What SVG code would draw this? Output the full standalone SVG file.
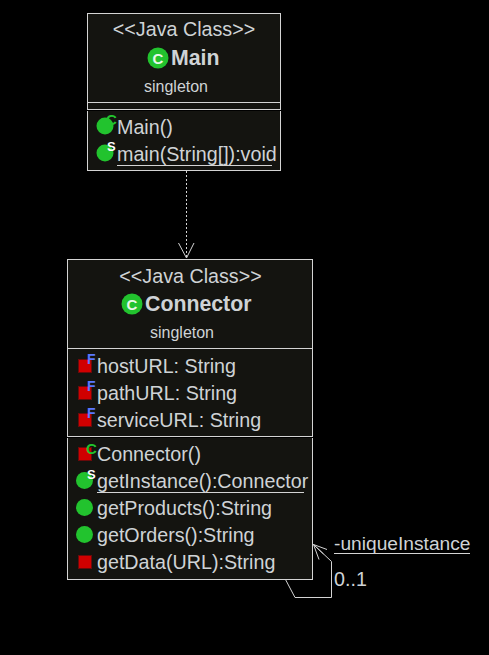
<svg xmlns="http://www.w3.org/2000/svg" width="489" height="655" viewBox="0 0 489 655">
<style>
text{font-family:"Liberation Sans",Arial,sans-serif;font-size:19.700px;fill:#cfd3d6}
.c{text-anchor:middle}
.s{font-size:16px}
.b{font-weight:bold;font-size:21.300px}
.box{fill:#141410;stroke:#d4d4d4;stroke-width:1}
.ln{stroke:#d4d4d4;stroke-width:1;fill:none}
.u{stroke:#d4d4d4;stroke-width:1.2}
.g{fill:#22c32e}
.r{fill:#d00000;stroke:#6a0a0a;stroke-width:1}
.cl{font-size:15px;font-weight:bold;fill:#e8f8e8;text-anchor:middle}
.sm{font-size:13px;font-weight:bold;fill:#fff}
.f{font-size:14px;font-weight:bold;fill:#5a78ff}
.k{font-size:15px;font-weight:bold;fill:#22c32e}
</style>
<rect width="489" height="655" fill="#000"/>
<g id="connectors">
<path d="M186.500 171V258" stroke="#d4d4d4" stroke-dasharray="2 2" fill="none"/>
<path class="ln" d="M178.500 243L186.500 258L194 243"/>
<path class="ln" d="M285.500 579.500L295 597.500H331.500V561.500L313.500 544.500"/>
<path class="ln" d="M327 549.500L313.500 544.500L319 559.500M313.500 544.500L323.500 554"/>
</g>
<g id="main">
<rect class="box" x="87.500" y="13.500" width="193" height="157"/>
<path class="ln" d="M87.500 102.500H280.500M87.500 109.500H280.500"/>
<path d="M87 110.500H281" stroke="#000"/>
<text class="c" x="184" y="36">&lt;&lt;Java Class&gt;&gt;</text>
<circle class="g" cx="158" cy="58" r="10.500"/>
<text class="cl" x="158" y="63.500">C</text>
<text class="b" x="171" y="65">Main</text>
<text class="c s" x="176" y="92">singleton</text>
<circle class="g" cx="105" cy="126" r="8.500"/>
<text class="k" x="106" y="125">C</text>
<text x="117" y="134">Main()</text>
<circle class="g" cx="105" cy="153" r="8.500"/>
<text class="sm" x="107" y="151">S</text>
<text x="117" y="161">main(String[]):void</text>
<path class="u" d="M117 165.500H272"/>
</g>
<g id="connector">
<rect class="box" x="67.500" y="259.500" width="245" height="320"/>
<path class="ln" d="M67.500 348.500H312.500M67.500 436.500H312.500"/>
<path d="M67 437.500H313" stroke="#000"/>
<text class="c" x="190.500" y="282.500">&lt;&lt;Java Class&gt;&gt;</text>
<circle class="g" cx="132" cy="304" r="10.500"/>
<text class="cl" x="132" y="309.500">C</text>
<text class="b" x="145" y="311">Connector</text>
<text class="c s" x="182" y="338">singleton</text>
<rect class="r" x="78.500" y="359.500" width="13" height="13"/>
<text class="f" x="87" y="364">F</text>
<text x="97" y="373">hostURL: String</text>
<rect class="r" x="78.500" y="386.500" width="13" height="13"/>
<text class="f" x="87" y="391">F</text>
<text x="97" y="400">pathURL: String</text>
<rect class="r" x="78.500" y="413.500" width="13" height="13"/>
<text class="f" x="87" y="418">F</text>
<text x="97" y="427">serviceURL: String</text>
<rect class="r" x="78.500" y="447.500" width="13" height="13"/>
<text class="k" x="86" y="454">C</text>
<text x="97" y="461">Connector()</text>
<circle class="g" cx="84.500" cy="480.500" r="8.500"/>
<text class="sm" x="87" y="479">S</text>
<text x="97" y="488">getInstance():Connector</text>
<path class="u" d="M97 492.500H304"/>
<circle class="g" cx="84.500" cy="507.500" r="8.500"/>
<text x="97" y="515">getProducts():String</text>
<circle class="g" cx="84.500" cy="534.500" r="8.500"/>
<text x="97" y="542">getOrders():String</text>
<rect class="r" x="78.500" y="555.500" width="13" height="13"/>
<text x="97" y="569">getData(URL):String</text>
</g>
<g id="labels">
<text x="334" y="550" style="font-size:19.200px">-uniqueInstance</text>
<path class="u" d="M334 553.500H470"/>
<text x="334" y="586">0..1</text>
</g>
</svg>
